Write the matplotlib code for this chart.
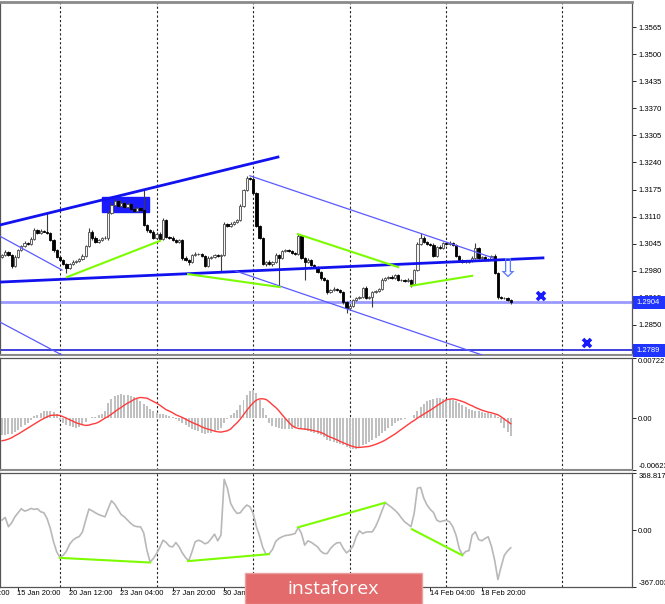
import numpy as np
import matplotlib
matplotlib.use("Agg")
import matplotlib.pyplot as plt
import matplotlib.transforms as mtransforms
from matplotlib.patches import Rectangle

plt.rcParams['font.family'] = ['Liberation Sans', 'DejaVu Sans']

# GBP/USD H4, bar 0 = 15 Jan 00:00 ... bar 158 = 20 Feb 08:00
close = [
    1.3018, 1.3025, 1.3018, 1.2992, 1.3013, 1.3030, 1.3040, 1.3047, 1.3044, 1.3057,
    1.3078, 1.3071, 1.3076, 1.3074, 1.3071, 1.3054, 1.3030, 1.3013, 1.3006, 1.2996,
    1.2987, 1.2996, 1.3001, 1.3004, 1.3008, 1.3016, 1.3040, 1.3074, 1.3059, 1.3049,
    1.3054, 1.3059, 1.3059, 1.3119, 1.3138, 1.3148, 1.3136, 1.3143, 1.3133, 1.3140,
    1.3128, 1.3124, 1.3131, 1.3126, 1.3090, 1.3078, 1.3074, 1.3059, 1.3069, 1.3057,
    1.3102, 1.3062, 1.3059, 1.3054, 1.3049, 1.3054, 1.3011, 1.3006, 1.3001, 1.3018,
    1.3020, 1.3020, 1.3016, 1.2992, 1.3011, 1.3013, 1.3018, 1.3016, 1.3018, 1.3092,
    1.3088, 1.3092, 1.3097, 1.3102, 1.3136, 1.3174, 1.3203, 1.3200, 1.3167, 1.3088,
    1.3059, 1.2996, 1.3001, 1.2996, 1.3001, 1.3018, 1.3011, 1.3028, 1.3030, 1.3028,
    1.3023, 1.3020, 1.3064, 1.3011, 1.3001, 1.3006, 1.2994, 1.2989, 1.2977, 1.2963,
    1.2958, 1.2929, 1.2934, 1.2936, 1.2934, 1.2929, 1.2905, 1.2891, 1.2896, 1.2910,
    1.2915, 1.2917, 1.2939, 1.2915, 1.2917, 1.2929, 1.2932, 1.2936, 1.2958, 1.2963,
    1.2965, 1.2963, 1.2970, 1.2958, 1.2958, 1.2956, 1.2958, 1.2948, 1.2982, 1.3044,
    1.3059, 1.3049, 1.3044, 1.3042, 1.3016, 1.3037, 1.3035, 1.3047, 1.3044, 1.3047,
    1.3042, 1.3016, 1.3006, 1.3001, 1.3001, 1.3004, 1.3011, 1.3035, 1.3011, 1.3013,
    1.3006, 1.3008, 1.3016, 1.2975, 1.2917, 1.2915, 1.2915, 1.2910, 1.2905,
]
first_open = 1.3013

# wick lengths in pips
wick_up = [
    3, 4, 2, 3, 4, 3, 2, 4, 3, 3,   5, 3, 4, 3, 45, 3, 2, 3, 2, 3,
    2, 3, 4, 2, 3, 4, 3, 9, 3, 4,   3, 2, 4, 8, 6, 5, 3, 6, 4, 5,
    3, 4, 5, 3, 48, 3, 2, 4, 3, 3,  5, 3, 2, 4, 3, 3, 2, 4, 3, 3,
    4, 3, 3, 2, 4, 3, 3, 2, 3, 4,   3, 4, 2, 3, 4, 3, 5, 3, 4, 3,
    3, 2, 3, 4, 3, 4, 3, 3, 2, 3,   3, 2, 4, 3, 3, 4, 2, 3, 3, 2,
    3, 3, 2, 4, 3, 3, 2, 3, 4, 3,   3, 2, 3, 4, 3, 3, 2, 3, 4, 3,
    3, 4, 3, 2, 3, 3, 4, 3, 3, 5,   12, 4, 3, 3, 4, 3, 4, 3, 3, 4,
    3, 2, 3, 3, 2, 3, 4, 12, 3, 3,  2, 3, 3, 4, 3, 3, 2, 3, 2,
]
wick_dn = [
    3, 2, 3, 5, 3, 2, 3, 2, 3, 3,   2, 3, 3, 2, 3, 3, 4, 3, 3, 3,
    12, 3, 2, 3, 3, 2, 3, 3, 4, 3,  3, 3, 2, 4, 3, 3, 2, 3, 3, 2,
    3, 3, 2, 3, 3, 4, 3, 3, 2, 3,   3, 3, 3, 2, 3, 3, 4, 3, 6, 3,
    3, 2, 3, 4, 3, 3, 2, 3, 39, 3,  3, 3, 2, 3, 3, 3, 2, 3, 3, 4,
    3, 3, 4, 3, 5, 3, 70, 3, 2, 3,  3, 3, 3, 3, 43, 3, 3, 2, 3, 4,
    3, 4, 3, 3, 3, 3, 4, 12, 3, 3,  2, 3, 3, 3, 3, 24, 3, 3, 2, 3,
    3, 2, 3, 3, 3, 3, 3, 7, 3, 3,   3, 3, 3, 2, 3, 3, 3, 3, 2, 3,
    3, 3, 3, 3, 3, 2, 3, 3, 3, 3,   3, 3, 3, 3, 4, 3, 3, 3, 4,
]

# MACD histogram and signal, in units of 1e-5
macd_hist = [
    -200, -200, -192, -192, -168, -140, -112, -80, -56, -24,
    20, 40, 60, 80, 88, 80, 68, 48, -20, -60,
    -80, -100, -112, -120, -112, -80, -48, 0, 8, 16,
    32, 48, 80, 180, 232, 260, 280, 288, 280, 272,
    260, 248, 232, 208, 168, 140, 112, 80, 60, 48,
    48, 32, 20, 8, -8, -32, -60, -88, -112, -128,
    -144, -160, -176, -192, -184, -176, -160, -140, -120, -60,
    -8, 32, 60, 100, 152, 220, 280, 320, 340, 300,
    220, 120, 40, -60, -100, -112, -120, -128, -128, -128,
    -128, -120, -112, -128, -140, -152, -168, -180, -192, -208,
    -232, -260, -280, -292, -304, -312, -328, -344, -360, -368,
    -368, -352, -328, -312, -292, -264, -240, -216, -184, -152,
    -120, -92, -64, -40, -24, -12, -4, 0, 32, 80,
    128, 168, 200, 220, 232, 236, 236, 232, 232, 224,
    216, 200, 180, 160, 136, 112, 96, 88, 80, 72,
    60, 56, 48, 40, 8, -60, -120, -168, -220,
]
macd_signal = [
    -272, -264, -252, -236, -212, -192, -168, -144, -120, -96,
    -72, -48, -24, -4, 16, 32, 36, 36, 32, 16,
    0, -20, -36, -56, -68, -80, -88, -84, -72, -64,
    -48, -24, 0, 20, 48, 76, 104, 128, 156, 180,
    200, 224, 240, 248, 244, 240, 220, 200, 180, 156,
    128, 100, 84, 64, 40, 24, 8, -12, -32, -52,
    -68, -84, -104, -120, -132, -144, -156, -164, -168, -160,
    -152, -132, -92, -56, -12, 40, 92, 140, 184, 216,
    232, 232, 224, 196, 160, 128, 88, 40, -4, -48,
    -88, -112, -124, -128, -132, -136, -144, -152, -160, -172,
    -188, -212, -228, -244, -260, -280, -296, -312, -328, -340,
    -352, -352, -348, -344, -340, -328, -316, -300, -284, -264,
    -240, -216, -192, -164, -136, -108, -80, -52, -28, 0,
    24, 48, 72, 96, 120, 148, 172, 196, 220, 228,
    232, 224, 212, 200, 184, 164, 148, 128, 112, 96,
    84, 72, 64, 52, 40, 16, -12, -40, -68,
]

cci = [
    65, 82, 22, 47, 86, 112, 138, 123, 129, 140,
    134, 138, 119, 112, 75, 11, -75, -140, -177, -162,
    -136, -91, -65, -50, -41, -11, 65, 136, 125, 112,
    101, 93, 86, 140, 190, 168, 134, 101, 86, 65,
    43, 28, 22, 22, -17, -129, -207, -183, -151, -112,
    -65, -80, -104, -108, -80, -108, -147, -177, -198, -140,
    -75, -65, -73, -88, -80, -54, -26, -69, -32, 328,
    270, 173, 134, 108, 112, 140, 162, 151, 108, 22,
    -39, -112, -157, -151, -125, -73, -54, -43, -35, -32,
    -28, -22, 17, -22, -97, -69, -78, -93, -108, -136,
    -151, -151, -119, -97, -82, -80, -119, -147, -129, -104,
    -43, -4, -22, -13, -11, -11, 22, 69, 125, 177,
    162, 147, 129, 108, 80, 54, 39, 22, 108, 270,
    276, 205, 162, 134, 114, 65, 54, 60, 63, 54,
    22, -32, -119, -160, -138, -132, -32, -11, -60, -69,
    -54, -43, -104, -194, -319, -237, -162, -134, -114,
]

price_ticks = [1.3565, 1.3500, 1.3435, 1.3370, 1.3305, 1.3240, 1.3175,
               1.3110, 1.3045, 1.2980, 1.2915, 1.2850]
date_pos = [-11, 5, 21, 37, 53, 69, 85, 101, 117, 133, 149]
date_labels = ["13 Jan 04:00", "15 Jan 20:00", "20 Jan 12:00", "23 Jan 04:00",
               "27 Jan 20:00", "30 Jan 12:00", "4 Feb 04:00", "6 Feb 20:00",
               "11 Feb 12:00", "14 Feb 04:00", "18 Feb 20:00"]
separators = [18, 48, 78, 108, 138, 174]

# drawn objects: (x0, x1), (y0, y1)
thick_lines = [((-0.62, 85.7), (1.3090, 1.3253)), ((-0.62, 168.0), (1.2953, 1.3011))]
thin_lines = [((-0.62, 18.6), (1.3063, 1.2982)), ((77.0, 152.5), (1.3208, 1.3011)),
              ((72.4, 149.1), (1.2980, 1.2778)), ((-0.62, 18.6), (1.2857, 1.2778))]
green_main = [((20.2, 49.1), (1.2965, 1.3052)), ((57.8, 86.3), (1.2972, 1.2941)),
              ((91.9, 123.0), (1.3068, 1.2989)), ((127.0, 146.0), (1.2944, 1.2968))]
green_cci = [((18.0, 46.0), (-179, -209)), ((57.8, 82.9), (-200, -155)),
             ((91.9, 119.0), (18, 177)), ((127.3, 142.9), (6, -162))]
level_now = 1.2904
level_low = 1.2789
targets = [(167.4, 1.2920), (181.7, 1.2807)]

W, H = 665, 604
fig = plt.figure(figsize=(W / 100, H / 100), dpi=100)
ax = fig.add_axes([0, (H - 355) / H, 632 / W, 353 / H])
ax2 = fig.add_axes([0, (H - 470) / H, 632 / W, 112 / H])
ax3 = fig.add_axes([0, (H - 587) / H, 632 / W, 114 / H])

n = len(close)
idx = np.arange(n)
c = np.array(close)
o = np.r_[first_open, c[:-1]]
hi = np.maximum(o, c) + np.array(wick_up) * 1e-4
lo = np.minimum(o, c) - np.array(wick_dn) * 1e-4
body = np.maximum(np.abs(c - o), 0.00006)
up = c >= o

ax.vlines(idx, lo, hi, color='#3c3c3c', lw=0.8, zorder=3)
ax.bar(idx[up], body[up], bottom=o[up], width=0.7, color='#f4f4f4',
       edgecolor='#4a4a4a', lw=0.6, zorder=4)
ax.bar(idx[~up], body[~up], bottom=c[~up], width=0.7, color='black',
       edgecolor='black', lw=0.6, zorder=4)

ax.add_patch(Rectangle((31.1, 1.3121), 14.6, 0.0036, color='#1a1aff', zorder=2))
for xs, ys in thick_lines:
    ax.plot(xs, ys, color='#1212ee', lw=2, zorder=5)
for xs, ys in thin_lines:
    ax.plot(xs, ys, color='#5a5aff', lw=0.9, zorder=5)
for xs, ys in green_main:
    ax.plot(xs, ys, color='#7cfc00', lw=1.5, zorder=5)
ax.axhline(level_now, color='#9a9aff', lw=2, zorder=2)
ax.axhline(level_low, color='#2020d8', lw=1.2, zorder=2)
for tx, ty in targets:
    ax.plot([tx], [ty], marker='x', ms=6, mew=2.6, color='#1a1aff', zorder=6)
ax.text(156.9, 1.2983, '\u21e9', fontsize=19, color='#5b7cff',
        family=['DejaVu Sans'], ha='center', va='center', zorder=6)

ax2.bar(idx, np.array(macd_hist) * 1e-5, width=0.62, color='#c0c0c0', zorder=2)
ax2.plot(idx, np.array(macd_signal) * 1e-5, color='#ff3b3b', lw=1, zorder=3)

ax3.plot(idx, cci, color='#b8b8b8', lw=1.2, zorder=2)
for xs, ys in green_cci:
    ax3.plot(xs, ys, color='#7cfc00', lw=1.5, zorder=3)

for a in (ax, ax2, ax3):
    a.set_xlim(-0.62, 195.65)
    for s in separators:
        a.axvline(s, color='#222222', lw=0.8, ls=(0, (2, 2)), zorder=1)
    a.yaxis.tick_right()
    a.tick_params(axis='y', labelsize=5.5, length=3, width=0.6, pad=1.5)
    for sp in a.spines.values():
        sp.set_color('#555555')
        sp.set_linewidth(0.9)

ax.set_ylim(1.2778, 1.3625)
ax.set_yticks(price_ticks)
ax.set_yticklabels([f"{p:.4f}" for p in price_ticks])
ax.set_xticks([])
ax.spines['top'].set_color('#8a8a8a')
ax.spines['top'].set_linewidth(2)
ax.spines['bottom'].set_color('#8a8a8a')
ax.spines['bottom'].set_linewidth(1.5)

ax2.set_ylim(-0.00623, 0.00722)
ax2.set_yticks([0.00722, 0, -0.00623])
ax2.set_yticklabels(['0.00722', '0.00', '-0.00623'])
ax2.set_xticks([])
ax2.spines['bottom'].set_color('#8a8a8a')
ax2.spines['bottom'].set_linewidth(1.5)

ax3.set_ylim(-367.0034, 368.8171)
ax3.set_yticks([368.8171, 0, -367.0034])
ax3.set_yticklabels(['368.8171', '0.00', '-367.0034'])
for a in (ax2, ax3):
    labs = a.get_yticklabels()
    labs[0].set_verticalalignment('top')
    labs[2].set_verticalalignment('bottom')

ax3.set_xticks([p for p in date_pos if p > 0])
ax3.set_xticklabels([])
ax3.tick_params(axis='x', length=3, width=0.6)
for p, lab in zip(date_pos, date_labels):
    ax3.annotate(lab, xy=(p, 0), xycoords=('data', 'axes fraction'),
                 xytext=(-0.5, -2.5), textcoords='offset points',
                 ha='left', va='top', fontsize=5.4, annotation_clip=False)

# price boxes on the right scale
bt = mtransforms.blended_transform_factory(fig.transFigure, ax.transData)
for lvl in (level_now, level_low):
    ax.add_patch(Rectangle((633 / W, lvl - 0.00155), 32 / W, 0.0031, transform=bt,
                           facecolor='#1f35ff', edgecolor='none', clip_on=False, zorder=7))
    ax.text(636 / W, lvl, f"{lvl:.4f}", transform=bt, color='white', fontsize=5.5,
            ha='left', va='center', clip_on=False, zorder=8)

# watermark banner
fig.patches.append(Rectangle((245 / W, 0), 177 / W, 31 / H, transform=fig.transFigure,
                             facecolor='#e36b6b', edgecolor='#eea0a0', lw=1, zorder=10))
fig.text(333 / W, 1 - 589 / H, 'instaforex', color='white', fontsize=14,
         family=['Open Sans', 'DejaVu Sans'], ha='center', va='center', zorder=11)

fig.savefig('out.png', dpi=100)
